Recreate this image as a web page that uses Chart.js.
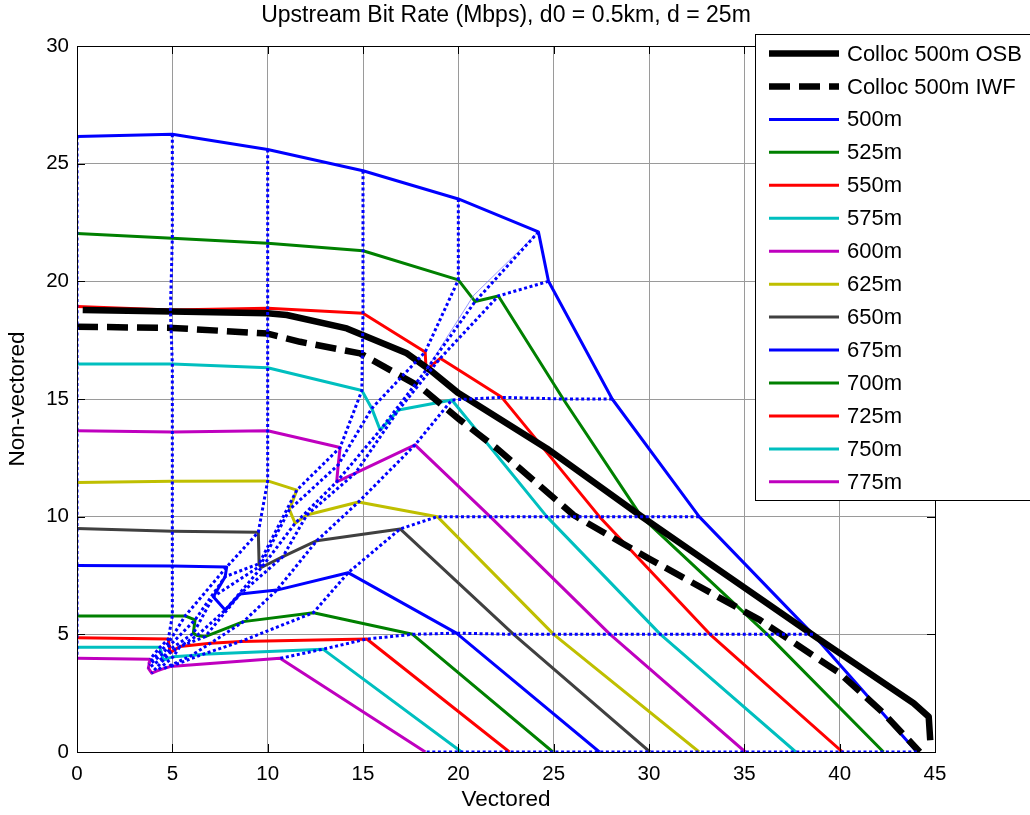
<!DOCTYPE html>
<html>
<head>
<meta charset="utf-8">
<script src="https://cdn.jsdelivr.net/npm/chart.js@4.4.1/dist/chart.umd.min.js"></script>
<style>
  html, body { margin: 0; padding: 0; background: #fff; }
</style>
</head>
<body>
<canvas id="c" width="1030" height="815"></canvas>
<script>
// tick values
const xTicks = [0, 5, 10, 15, 20, 25, 30, 35, 40, 45];
const yTicks = [0, 5, 10, 15, 20, 25, 30];

// co-located reference curves (vectored, non-vectored)
const osb500 = [[0.3,18.78],[5,18.72],[10,18.64],[11,18.57],[14.15,18.0],[17.3,16.94],[18.52,16.23],[20,15.25],[24.64,12.9],[29.62,10],[38.72,4.9],[43.88,2.07],[44.67,1.5],[44.75,0.5]];
const iwf500 = [[0,18.07],[5,18.02],[10,17.78],[11.7,17.43],[14.85,16.94],[17.99,15.52],[20.1,14.1],[22.02,12.9],[26.04,10.07],[29.97,8.23],[35.83,5.6],[40,3.35],[42.3,1.65],[44.2,0]];

// rate regions per distance, 11 points each:
// x=0, x=5, x=10, x=15, x=20, corner, y=20, y=15, y=10, y=5, y=0
const d500 = [[0,26.15],[5,26.25],[10,25.6],[15,24.7],[20,23.5],[24.2,22.1],[24.73,20],[28.07,15],[32.63,10],[38.6,5],[44.05,0]];
const d525 = [[0,22.03],[5,21.83],[10,21.62],[15,21.3],[20,20.06],[20.88,19.14],[22.1,19.38],[25.5,15],[29.6,10],[36.2,5],[42.3,0]];
const d550 = [[0,18.93],[4.9,18.78],[10,18.86],[15,18.64],[18.26,17.0],[18.31,16.23],[19.05,16.73],[22.28,15.07],[27.4,10],[33.2,5],[40.15,0]];
const d575 = [[0,16.49],[5,16.49],[10,16.33],[14.94,15.36],[15.46,14.6],[15.9,13.68],[16.86,14.53],[19.66,14.96],[24.64,10],[30.6,5],[37.7,0]];
const d600 = [[0,13.65],[5,13.6],[10,13.65],[13.8,12.94],[13.7,12.2],[13.62,11.48],[14.6,11.85],[17.73,13.05],[21.67,10],[27.96,5],[35.05,0]];
const d625 = [[0,11.45],[5,11.5],[10,11.52],[11.53,11.13],[11.14,10.3],[11.44,9.72],[12.05,10.07],[14.76,10.62],[18.9,10],[25,5],[32.63,0]];
const d650 = [[0,9.5],[5,9.38],[9.51,9.34],[9.55,8.0],[9.6,7.9],[9.69,7.85],[10.8,8.3],[12.58,8.98],[16.95,9.48],[22.9,5],[30.05,0]];
const d675 = [[0,7.92],[5,7.9],[7.85,7.86],[7.77,7.45],[7.15,6.6],[7.77,6.03],[8.55,6.71],[10.48,6.88],[14.22,7.62],[19.9,5.05],[27.4,0]];
const d700 = [[0,5.78],[5,5.78],[5.67,5.78],[6.19,5.61],[6.1,5.04],[6.3,4.95],[6.72,4.9],[8.73,5.54],[12.4,5.92],[17.6,5],[24.96,0]];
const d725 = [[0,4.85],[4.79,4.8],[4.81,4.65],[4.83,4.5],[4.86,4.35],[4.88,4.22],[5.4,4.48],[7.0,4.62],[8.6,4.7],[15.2,4.8],[22.68,0]];
const d750 = [[0,4.45],[4.35,4.45],[4.4,4.3],[4.45,4.15],[4.5,4.0],[4.53,3.91],[5.05,4.05],[6.0,4.1],[6.6,4.15],[12.9,4.37],[20.17,0]];
const d775 = [[0,3.98],[3.83,3.94],[3.8,3.8],[3.78,3.7],[3.74,3.56],[3.92,3.35],[4.2,3.45],[4.5,3.53],[4.88,3.63],[10.65,3.98],[18.27,0]];

// faint thin line next to the corner locus at the top
const thinCorner = [[24.2,22.1],[20.8,19.4],[18.31,16.23]];

const distLabels = ['500m','525m','550m','575m','600m','625m','650m','675m','700m','725m','750m','775m'];
const distCurves = [d500, d525, d550, d575, d600, d625, d650, d675, d700, d725, d750, d775];
const colorCycle = ['#0000ff','#008000','#ff0000','#00bfbf','#bf00bf','#bfbf00','#404040'];

const pts = arr => arr.map(p => ({ x: p[0], y: p[1] }));
const FONT = '"Liberation Sans", Arial, sans-serif';

const datasets = [];
datasets.push({ label: 'Colloc 500m OSB', data: pts(osb500), borderColor: '#000', borderWidth: 6.5, order: 1 });
datasets.push({ label: 'Colloc 500m IWF', data: pts(iwf500), borderColor: '#000', borderWidth: 6.5, borderDash: [21, 9], order: 1 });
distCurves.forEach((c, i) => {
  datasets.push({ label: distLabels[i], data: pts(c), borderColor: colorCycle[i % 7], borderWidth: 3, order: 2 });
});
// dotted loci joining the same point of every curve
for (let k = 0; k < d500.length; k++) {
  datasets.push({ label: '', data: pts(distCurves.map(c => c[k])), borderColor: '#0000ff', borderWidth: 3, borderDash: [3, 2.6], order: 0 });
}
datasets.push({ label: '', data: pts(thinCorner), borderColor: 'rgba(110,110,255,0.7)', borderWidth: 1, order: 0 });
datasets.forEach(d => {
  d.pointRadius = 0;
  d.tension = 0;
  d.fill = false;
  d.borderJoinStyle = 'round';
});

// box with inner ticks on all four sides, plus the title over the plot
const axesBox = {
  id: 'axesBox',
  afterDatasetsDraw(chart) {
    const { ctx, chartArea: a, scales: { x, y } } = chart;
    ctx.save();
    ctx.strokeStyle = '#000';
    ctx.lineWidth = 1;
    ctx.setLineDash([]);
    ctx.strokeRect(Math.round(a.left) + 0.5, Math.round(a.top) + 0.5, Math.round(a.right - a.left), Math.round(a.bottom - a.top));
    ctx.beginPath();
    xTicks.forEach(v => {
      const px = Math.round(x.getPixelForValue(v)) + 0.5;
      ctx.moveTo(px, a.bottom); ctx.lineTo(px, a.bottom - 8);
      ctx.moveTo(px, a.top); ctx.lineTo(px, a.top + 8);
    });
    yTicks.forEach(v => {
      const py = Math.round(y.getPixelForValue(v)) + 0.5;
      ctx.moveTo(a.left, py); ctx.lineTo(a.left + 8, py);
      ctx.moveTo(a.right, py); ctx.lineTo(a.right - 8, py);
    });
    ctx.stroke();
    ctx.fillStyle = '#000';
    ctx.font = '23px ' + FONT;
    ctx.textAlign = 'center';
    ctx.textBaseline = 'middle';
    ctx.fillText('Upstream Bit Rate (Mbps), d0 = 0.5km, d = 25m', (a.left + a.right) / 2, 16);
    ctx.restore();
  }
};

// legend box overlapping the upper right corner
const legendBox = {
  id: 'legendBox',
  afterDraw(chart) {
    const ctx = chart.ctx;
    const items = chart.data.datasets.filter(d => d.label);
    ctx.save();
    ctx.fillStyle = '#fff';
    ctx.fillRect(755.5, 34.5, 300, 466);
    ctx.strokeStyle = '#000';
    ctx.lineWidth = 1;
    ctx.strokeRect(755.5, 34.5, 300, 466);
    items.forEach((d, i) => {
      const yy = 53.5 + i * 32.95;
      ctx.beginPath();
      ctx.setLineDash(d.borderDash || []);
      ctx.strokeStyle = d.borderColor;
      ctx.lineWidth = d.borderWidth;
      ctx.moveTo(769, yy);
      ctx.lineTo(839, yy);
      ctx.stroke();
      ctx.setLineDash([]);
      ctx.fillStyle = '#000';
      ctx.font = '22px ' + FONT;
      ctx.textBaseline = 'middle';
      ctx.fillText(d.label, 847, yy + 1);
    });
    ctx.restore();
  }
};

Chart.defaults.font.family = FONT;
Chart.defaults.color = '#000';

new Chart(document.getElementById('c'), {
  type: 'line',
  data: { datasets: datasets },
  plugins: [axesBox, legendBox],
  options: {
    responsive: false,
    devicePixelRatio: 1,
    animation: false,
    layout: { padding: { left: 0, right: 95, top: 46, bottom: 0 } },
    plugins: {
      legend: { display: false },
      tooltip: { enabled: false },
      title: { display: false }
    },
    scales: {
      x: {
        type: 'linear',
        min: 0,
        max: 45,
        afterBuildTicks: s => { s.ticks = xTicks.map(v => ({ value: v })); },
        afterFit: s => { s.height = 63; },
        ticks: { font: { size: 20.5 }, padding: 10, maxRotation: 0, color: '#000' },
        grid: { color: '#9a9a9a', lineWidth: 1, drawTicks: false },
        border: { display: false },
        title: { display: true, text: 'Vectored', font: { size: 22.5 }, padding: { top: 0, bottom: 1.5 }, color: '#000' }
      },
      y: {
        type: 'linear',
        min: 0,
        max: 30,
        afterBuildTicks: s => { s.ticks = yTicks.map(v => ({ value: v })); },
        afterFit: s => { s.width = 77; },
        ticks: { font: { size: 20.5 }, padding: 8, color: '#000' },
        grid: { color: '#9a9a9a', lineWidth: 1, drawTicks: false },
        border: { display: false },
        title: { display: true, text: 'Non-vectored', font: { size: 22.5 }, padding: { top: 4.5, bottom: 0 }, color: '#000' }
      }
    }
  }
});
</script>
</body>
</html>
